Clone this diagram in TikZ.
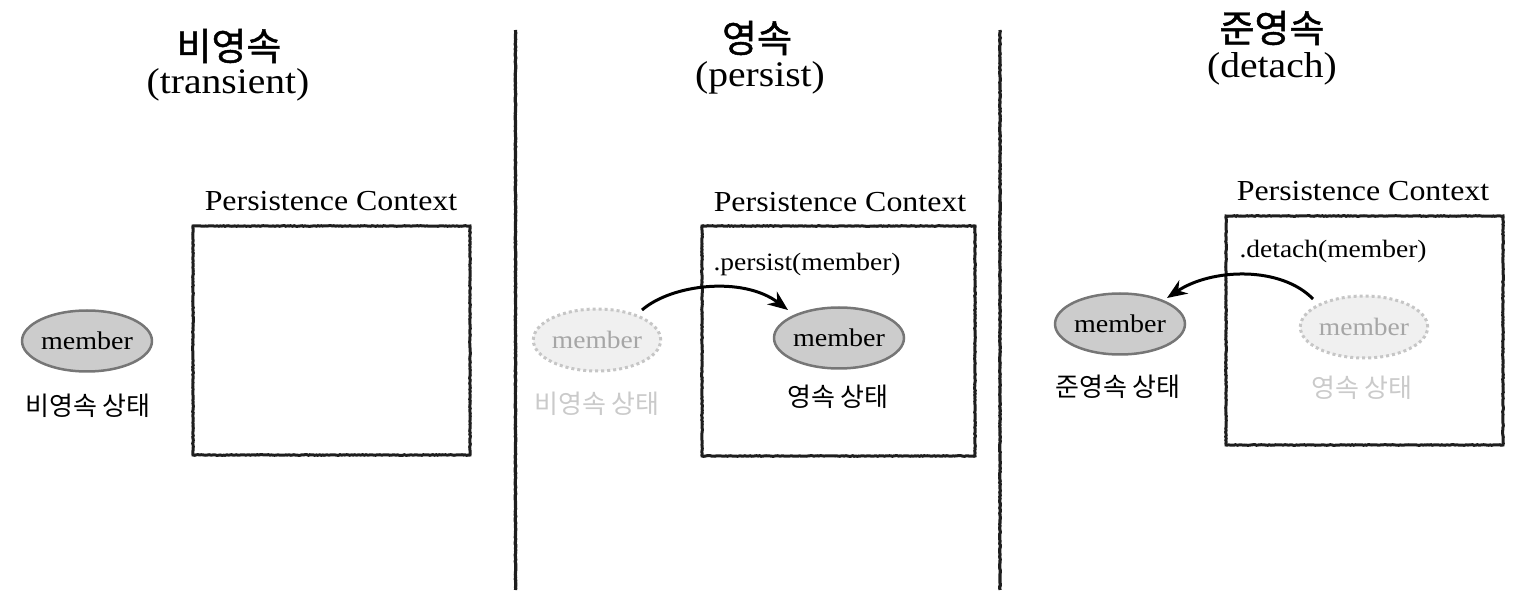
\documentclass[tikz,border=0pt]{standalone}
\usepackage{fontspec}
\setmainfont[FakeStretch=1.1]{Liberation Serif}
\newfontfamily\kr{Noto Sans CJK KR}
\newfontfamily\krt[FakeBold=1.2]{Noto Sans CJK KR}
\usetikzlibrary{shapes.geometric,arrows.meta,decorations.pathmorphing,calc}
\definecolor{ink}{HTML}{1E1E1E}
\definecolor{memfill}{HTML}{CCCCCC}
\definecolor{memline}{HTML}{767676}
\definecolor{ghfill}{HTML}{F0F0F0}
\definecolor{ghline}{HTML}{C6C6C6}
\definecolor{ghtext}{HTML}{A6A6A6}
\definecolor{ghlabel}{HTML}{CACACA}
\tikzset{
  rough/.style={decorate,decoration={random steps,segment length=1.6pt,amplitude=0.35pt}},
  ctxbox/.style={draw=ink,line width=3pt,rough},
  divider/.style={draw=ink,line width=3.2pt,rough},
  memnode/.style={ellipse,draw=memline,fill=memfill,line width=2.5pt,minimum width=120pt,minimum height=61pt,inner sep=0pt,font=\fontsize{25.5}{28}\selectfont},
  ghnode/.style={ellipse,draw=ghline,fill=ghfill,line width=3pt,dash pattern=on 3pt off 3pt,minimum width=120pt,minimum height=62pt,inner sep=0pt,text=ghtext,font=\fontsize{25}{28}\selectfont},
  krlabel/.style={font=\kr\fontsize{26}{29}\selectfont},
  ctxlabel/.style={font=\fontsize{29}{32}\selectfont},
  method/.style={anchor=west,font=\fontsize{25}{28}\selectfont},
  titlekr/.style={font=\krt\fontsize{38}{42}\selectfont},
  titleen/.style={font=\fontsize{36}{40}\selectfont},
  flow/.style={draw=black,line width=3pt,-{Stealth[length=20pt,width=16pt]}}
}
\begin{document}
\begin{tikzpicture}[x=1pt,y=-1pt]
\useasboundingbox (0,0) rectangle (1519,612);
% titles
\node[titlekr] (t1k) at (229,46) {비영속};
\node[titleen] (t1e) at (228,85) {(transient)};
\node[titlekr] (t2k) at (757,38) {영속};
\node[titleen] (t2e) at (760,78) {(persist)};
\node[titlekr] (t3k) at (1272,28) {준영속};
\node[titleen] (t3e) at (1272,69) {(detach)};
% dividers
\coordinate (d1a) at (515.5,30); \coordinate (d1b) at (515.5,590);
\coordinate (d2a) at (1000,30); \coordinate (d2b) at (1000,590);
\draw[divider] (d1a) -- (d1b);
\draw[divider] (d2a) -- (d2b);
% panel 1
\node[ctxlabel] (pc1) at (331,201) {Persistence Context};
\draw[ctxbox] (193,226) rectangle (470,455);
\node[memnode] (m1) at (87,341) {member};
\node[krlabel] (l1) at (88,406) {비영속 상태};
% panel 2
\node[ctxlabel] (pc2) at (840,202) {Persistence Context};
\draw[ctxbox] (702,226) rectangle (975,456);
\node[method] (p2) at (710,264) {.persist(member)};
\node[ghnode] (g2) at (597,340) {member};
\node[krlabel,text=ghlabel] (gl2) at (597,404) {비영속 상태};
\node[memnode] (m2) at (839,338) {member};
\node[krlabel] (l2) at (838,397) {영속 상태};
\draw[flow] ($(g2)+(45,-30)$) .. controls +(30,-26) and +(-45,-34) .. ($(m2)+(-51,-28)$);
% panel 3
\node[ctxlabel] (pc3) at (1363,191) {Persistence Context};
\draw[ctxbox] (1226,216) rectangle (1503,445);
\node[method] (p3) at (1236,251) {.detach(member)};
\node[ghnode] (g3) at (1364,327) {member};
\node[krlabel,text=ghlabel] (gl3) at (1362,388) {영속 상태};
\node[memnode] (m3) at (1120,324) {member};
\node[krlabel] (l3) at (1118,387) {준영속 상태};
\draw[flow] ($(g3)+(-51,-28)$) .. controls +(-32,-33) and +(45,-30) .. ($(m3)+(47,-26)$);
\end{tikzpicture}
\end{document}
